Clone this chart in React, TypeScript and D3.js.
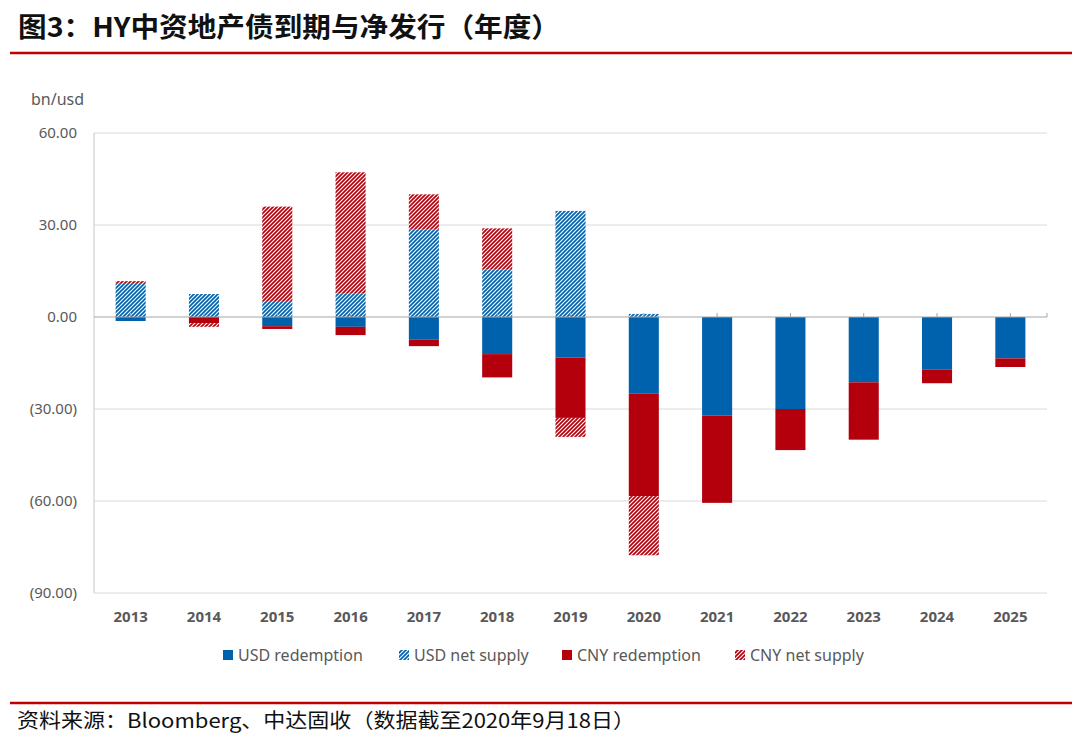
// Stacked bar chart: HY Chinese property bonds, maturity vs net issuance
import * as d3 from "d3";

const WIDTH = 1080;
const HEIGHT = 742;

const years = ["2013", "2014", "2015", "2016", "2017", "2018", "2019", "2020", "2021", "2022", "2023", "2024", "2025"];

// bn usd
const usdRedemption = [-1.3, 0, -3.0, -3.2, -7.3, -12.1, -13.2, -24.9, -32.1, -30.0, -21.3, -17.2, -13.5];
const usdNetSupply = [10.8, 7.5, 5.2, 7.6, 28.6, 15.5, 34.6, 1.0, 0, 0, 0, 0, 0];
const cnyRedemption = [0, -2.0, -0.9, -2.7, -2.2, -7.6, -19.7, -33.5, -28.5, -13.4, -18.7, -4.4, -2.8];
const cnyNetSupply = [0.9, -1.2, 30.8, 39.6, 11.4, 13.4, -6.2, -19.3, 0, 0, 0, 0, 0];

const yTicks = [60, 30, 0, -30, -60, -90];

const seriesNames = ["USD redemption", "USD net supply", "CNY redemption", "CNY net supply"];
const seriesKeys = ["usdRed", "usdNet", "cnyRed", "cnyNet"];

const BLUE = "#0062AD";
const RED = "#B3000C";

const fills: Record<string, string> = {
  usdRed: BLUE,
  usdNet: "url(#hatchBlue)",
  cnyRed: RED,
  cnyNet: "url(#hatchRed)",
};

const margin = { left: 94, right: 33, top: 133, bottom: 149 };

const fmt = (v: number) => {
  const s = d3.format(".2f")(Math.abs(v));
  return v < 0 ? `(${s})` : s;
};

const Hatch = ({ id, color }: { id: string; color: string }) => (
  <pattern id={id} patternUnits="userSpaceOnUse" width={4} height={4}>
    <rect width={4} height={4} fill="#fff" />
    <path d="M-1,1 l2,-2 M0,4 l4,-4 M3,5 l2,-2" stroke={color} strokeWidth={1.7} />
  </pattern>
);

export default function App() {
  const rows = years.map((y, i) => ({
    year: y,
    usdRed: usdRedemption[i],
    usdNet: usdNetSupply[i],
    cnyRed: cnyRedemption[i],
    cnyNet: cnyNetSupply[i],
  }));

  const stacked = d3
    .stack<any>()
    .keys(seriesKeys)
    .offset(d3.stackOffsetDiverging)(rows);

  const x = d3
    .scaleBand()
    .domain(years)
    .range([margin.left, WIDTH - margin.right])
    .paddingInner(0.59)
    .paddingOuter(0.295);

  const y = d3
    .scaleLinear()
    .domain([-90, 60])
    .range([HEIGHT - margin.bottom, margin.top]);

  const x0 = margin.left;
  const x1 = WIDTH - margin.right;

  const legendSquares = [223, 399, 562, 735];
  const legendTexts = [238, 414, 577, 750];

  return (
    <svg
      width={WIDTH}
      height={HEIGHT}
      style={{ position: "absolute", left: 0, top: 0, background: "#fff" }}
    >
      <defs>
        <Hatch id="hatchBlue" color={BLUE} />
        <Hatch id="hatchRed" color={RED} />
      </defs>

      {/* title */}
      <text
        x={18}
        y={37}
        fontFamily="'Noto Sans CJK SC', sans-serif"
        fontWeight={700}
        fontSize={27}
        textLength={542}
        lengthAdjust="spacingAndGlyphs"
        fill="#111"
      >
        图3：HY中资地产债到期与净发行（年度）
      </text>
      <line x1={10} x2={1072} y1={53} y2={53} stroke="#C00000" strokeWidth={2.5} />

      {/* unit */}
      <text x={31} y={105} fontFamily="'Noto Sans', sans-serif" fontSize={16} fill="#595959">
        bn/usd
      </text>

      {/* grid */}
      {yTicks.map((t) => (
        <g key={t}>
          {t !== 0 && (
            <line x1={x0} x2={x1} y1={y(t)} y2={y(t)} stroke="#d9d9d9" strokeWidth={1.2} />
          )}
          <text
            x={77}
            y={y(t)}
            dy="0.35em"
            textAnchor="end"
            fontFamily="'Noto Sans', sans-serif"
            fontSize={15}
            fill="#595959"
          >
            {fmt(t)}
          </text>
        </g>
      ))}
      <line x1={x0} x2={x0} y1={y(60)} y2={y(-90)} stroke="#d0d0d0" strokeWidth={1.2} />

      {/* bars */}
      {stacked.map((s) => (
        <g key={s.key}>
          {s.map((d: any) => {
            const top = y(Math.max(d[0], d[1]));
            const h = Math.abs(y(d[0]) - y(d[1]));
            if (h === 0) return null;
            return (
              <rect
                key={d.data.year}
                x={x(d.data.year)}
                y={top}
                width={x.bandwidth()}
                height={h}
                fill={fills[s.key]}
              />
            );
          })}
        </g>
      ))}

      {/* zero axis */}
      <line x1={x0} x2={x1} y1={y(0)} y2={y(0)} stroke="#a6a6a6" strokeWidth={1.2} />
      {years.map((yr) => (
        <line
          key={yr}
          x1={(x(yr) ?? 0) + x.bandwidth() / 2}
          x2={(x(yr) ?? 0) + x.bandwidth() / 2}
          y1={y(0)}
          y2={y(0) - 4}
          stroke="#a6a6a6"
        />
      ))}
      <line x1={x1} x2={x1} y1={y(0)} y2={y(0) - 4} stroke="#a6a6a6" />

      {/* year labels */}
      {years.map((yr) => (
        <text
          key={yr}
          x={(x(yr) ?? 0) + x.bandwidth() / 2}
          y={622}
          textAnchor="middle"
          fontFamily="'Noto Sans', sans-serif"
          fontWeight={700}
          fontSize={15}
          fill="#595959"
        >
          {yr}
        </text>
      ))}

      {/* legend */}
      {seriesNames.map((name, i) => (
        <g key={name}>
          <rect
            x={legendSquares[i]}
            y={650}
            width={10}
            height={10}
            fill={fills[seriesKeys[i]]}
          />
          <text
            x={legendTexts[i]}
            y={655}
            dy="0.35em"
            fontFamily="'Noto Sans', sans-serif"
            fontSize={16}
            fill="#595959"
          >
            {name}
          </text>
        </g>
      ))}

      {/* source */}
      <line x1={10} x2={1072} y1={703} y2={703} stroke="#C00000" strokeWidth={2.5} />
      <text
        x={17}
        y={728}
        fontFamily="'Noto Sans CJK SC', sans-serif"
        fontSize={20}
        textLength={618}
        lengthAdjust="spacingAndGlyphs"
        fill="#111"
      >
        资料来源：Bloomberg、中达固收（数据截至2020年9月18日）
      </text>
    </svg>
  );
}
